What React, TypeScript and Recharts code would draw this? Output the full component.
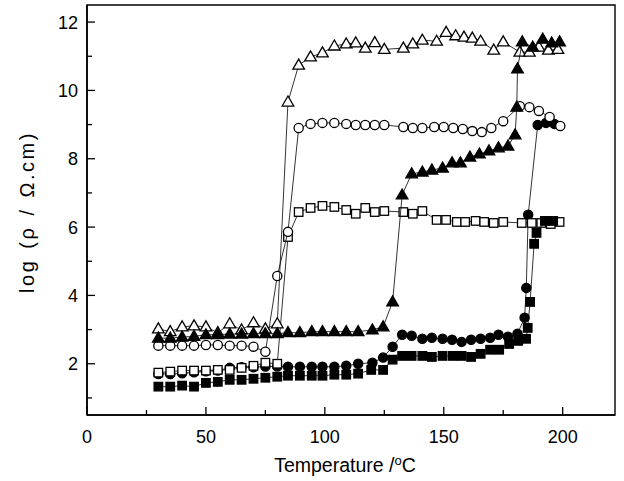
import React from 'react';
import { ScatterChart, Scatter, XAxis, YAxis, ReferenceArea } from 'recharts';

// ---- data ----
const openTriX = [30, 35, 40, 45, 50, 55, 60, 65, 70, 75, 80, 84.5, 89, 94, 99, 104, 109, 113, 117, 121, 125, 133, 137, 141, 147, 151, 155, 158.5, 162, 165.5, 171, 175, 182, 186, 190, 194, 198];
const openTriY = [3.02, 2.94, 3.08, 3.11, 3.08, 2.91, 3.17, 2.99, 3.2, 3.02, 3.17, 9.66, 10.74, 10.98, 11.1, 11.3, 11.36, 11.39, 11.24, 11.4, 11.2, 11.24, 11.36, 11.47, 11.44, 11.7, 11.6, 11.56, 11.53, 11.44, 11.18, 11.42, 11.12, 11.12, 11.27, 11.18, 11.2];

const openCircX = [30, 35, 40, 45, 50, 55, 60, 65, 70, 75, 80, 84.5, 89, 94, 99, 104, 109, 113, 117, 121, 125, 133, 137, 141, 146, 150, 154, 158, 162, 166, 170, 175, 182, 186, 190, 194.5, 199];
const openCircY = [2.53, 2.53, 2.53, 2.53, 2.55, 2.55, 2.53, 2.53, 2.5, 2.35, 4.57, 5.86, 8.9, 9.02, 9.05, 9.05, 9.02, 8.99, 8.99, 8.99, 8.99, 8.93, 8.9, 8.9, 8.93, 8.93, 8.9, 8.87, 8.81, 8.78, 8.9, 9.1, 9.54, 9.51, 9.4, 9.22, 8.96];

const fillTriX = [30, 35, 40, 45, 50, 55, 60, 65, 70, 75, 80, 84.5, 89.5, 94.5, 99, 104, 109, 114, 120, 124.5, 128.5, 132.5, 136.5, 141, 145, 149.5, 153.5, 157, 161, 165, 169, 173, 177, 180, 180.7, 181, 183, 187.4, 191.6, 195.4, 198.7];
const fillTriY = [2.75, 2.75, 2.78, 2.8, 2.85, 2.85, 2.87, 2.87, 2.88, 2.88, 2.88, 2.91, 2.91, 2.94, 2.94, 2.94, 2.94, 2.94, 2.99, 3.08, 3.81, 6.94, 7.56, 7.61, 7.67, 7.73, 7.88, 7.88, 8.05, 8.14, 8.23, 8.32, 8.37, 8.7, 9.51, 10.63, 11.42, 11.27, 11.5, 11.39, 11.42];

const fillCircX = [30, 35, 40, 45, 50, 55, 60, 65, 70, 75, 80, 84.5, 89.5, 94.5, 99, 104, 109, 114, 120, 124.5, 128.5, 132.5, 136.5, 141, 145, 149.5, 153.5, 157.5, 161.5, 165.5, 169.5, 173, 177, 181, 184, 184.7, 185.5, 189.5, 193, 196.5];
const fillCircY = [1.7, 1.7, 1.72, 1.75, 1.78, 1.8, 1.88, 1.9, 1.9, 1.92, 1.92, 1.91, 1.91, 1.91, 1.91, 1.91, 1.94, 2.0, 2.03, 2.18, 2.5, 2.85, 2.82, 2.73, 2.76, 2.73, 2.7, 2.64, 2.7, 2.73, 2.76, 2.85, 2.79, 2.88, 3.35, 4.22, 6.36, 8.99, 9.05, 9.02];

const openSqX = [30, 35, 40, 45, 50, 55, 60, 65, 70, 75, 80, 84.5, 89, 94, 99, 104, 109, 113, 117, 121, 125, 133, 137, 141, 147, 151, 155.5, 159, 163.4, 167, 171, 175, 182.8, 187, 191, 195, 198.7];
const openSqY = [1.74, 1.77, 1.8, 1.8, 1.8, 1.82, 1.82, 1.88, 1.94, 2.03, 2.0, 5.71, 6.44, 6.56, 6.62, 6.59, 6.5, 6.39, 6.56, 6.44, 6.47, 6.44, 6.39, 6.47, 6.21, 6.21, 6.15, 6.15, 6.18, 6.15, 6.12, 6.15, 6.12, 6.12, 6.12, 6.09, 6.15];

const fillSqX = [30, 35, 40, 45, 50, 55, 60, 65, 70, 75, 80, 84.5, 89.5, 94.5, 99, 104, 109, 114, 119.5, 124.5, 128.5, 132.5, 136.5, 141, 145, 149.5, 153.8, 157.5, 161.5, 165.5, 169.5, 173.3, 177.5, 181.3, 184.6, 185.3, 186.3, 188, 189, 192.5, 196];
const fillSqY = [1.33, 1.33, 1.36, 1.33, 1.44, 1.47, 1.53, 1.53, 1.56, 1.59, 1.62, 1.65, 1.65, 1.65, 1.65, 1.68, 1.68, 1.71, 1.82, 1.82, 2.12, 2.23, 2.23, 2.23, 2.2, 2.23, 2.23, 2.23, 2.2, 2.29, 2.41, 2.41, 2.58, 2.67, 2.73, 3.05, 3.81, 5.51, 5.83, 6.18, 6.18];

const xTicks = [0, 25, 50, 75, 100, 125, 150, 175, 200];
const xLabeled = [0, 50, 100, 150, 200];
const yTicks = [1, 2, 3, 4, 5, 6, 7, 8, 9, 10, 11, 12];
const yLabeled = [2, 4, 6, 8, 10, 12];

const zip = (xs: number[], ys: number[]) => xs.map((x, i) => ({ x, y: ys[i] }));

const FONT = '"Liberation Sans", Arial, sans-serif';

const TriShape = (filled: boolean) => (p: any) => {
  const { cx, cy } = p;
  if (cx == null || cy == null) return <g />;
  const w = 5.8, h = 10;
  const pts = `${cx},${cy - h * 0.6} ${cx - w},${cy + h * 0.4} ${cx + w},${cy + h * 0.4}`;
  return <polygon points={pts} fill={filled ? '#000' : '#fff'} stroke="#000" strokeWidth={1.3} />;
};
const CircShape = (filled: boolean) => (p: any) => {
  const { cx, cy } = p;
  if (cx == null || cy == null) return <g />;
  return <circle cx={cx} cy={cy} r={4.6} fill={filled ? '#000' : '#fff'} stroke="#000" strokeWidth={1.3} />;
};
const SqShape = (filled: boolean) => (p: any) => {
  const { cx, cy } = p;
  if (cx == null || cy == null) return <g />;
  const s = 8.5;
  return <rect x={cx - s / 2} y={cy - s / 2} width={s} height={s} fill={filled ? '#000' : '#fff'} stroke="#000" strokeWidth={1.3} />;
};

const XTick = (p: any) => {
  const { x, y, payload } = p;
  const v = payload.value;
  const major = xLabeled.includes(v);
  return (
    <g>
      <line x1={x} y1={y} x2={x} y2={y - (major ? 8 : 5)} stroke="#000" strokeWidth={1.3} />
      {major && (
        <text x={x} y={y + 28} textAnchor="middle" fontSize={18} fontFamily={FONT} fill="#000">
          {v}
        </text>
      )}
    </g>
  );
};

const YTick = (p: any) => {
  const { x, y, payload } = p;
  const v = payload.value;
  const major = yLabeled.includes(v);
  return (
    <g>
      <line x1={x} y1={y} x2={x + (major ? 8 : 5)} y2={y} stroke="#000" strokeWidth={1.3} />
      {major && (
        <text x={x - 9} y={y} dy={6.5} textAnchor="end" fontSize={18} fontFamily={FONT} fill="#000">
          {v}
        </text>
      )}
    </g>
  );
};

const lineStyle = { stroke: '#000', strokeWidth: 0.8 };

export default function App() {
  return (
    <div style={{ position: 'absolute', left: 0, top: 0, width: 624, height: 481, background: '#fff' }}>
      <ScatterChart width={624} height={481} margin={{ top: 5, right: 9, bottom: 0, left: 0 }}>
        <XAxis
          type="number"
          dataKey="x"
          domain={[0, 222]}
          ticks={xTicks}
          tick={<XTick />}
          tickSize={0}
          tickMargin={0}
          height={66}
          axisLine={{ stroke: '#000', strokeWidth: 1.6 }}
          allowDataOverflow
        />
        <YAxis
          type="number"
          dataKey="y"
          domain={[0.5, 12.5]}
          ticks={yTicks}
          tick={<YTick />}
          tickSize={0}
          tickMargin={0}
          width={87}
          axisLine={{ stroke: '#000', strokeWidth: 1.6 }}
          allowDataOverflow
        />
        <ReferenceArea x1={0} x2={222} y1={0.5} y2={12.5} fill="none" fillOpacity={0} stroke="#000" strokeWidth={1.4} ifOverflow="visible" />
        <Scatter data={zip(fillCircX, fillCircY)} line={lineStyle} lineType="joint" shape={CircShape(true)} isAnimationActive={false} />
        <Scatter data={zip(openSqX, openSqY)} line={lineStyle} lineType="joint" shape={SqShape(false)} isAnimationActive={false} />
        <Scatter data={zip(fillSqX, fillSqY)} line={lineStyle} lineType="joint" shape={SqShape(true)} isAnimationActive={false} />
        <Scatter data={zip(openCircX, openCircY)} line={lineStyle} lineType="joint" shape={CircShape(false)} isAnimationActive={false} />
        <Scatter data={zip(openTriX, openTriY)} line={lineStyle} lineType="joint" shape={TriShape(false)} isAnimationActive={false} />
        <Scatter data={zip(fillTriX, fillTriY)} line={lineStyle} lineType="joint" shape={TriShape(true)} isAnimationActive={false} />
      </ScatterChart>
      <div
        style={{
          position: 'absolute',
          left: 27,
          top: 212,
          transform: 'translate(-50%, -50%) rotate(-90deg)',
          whiteSpace: 'nowrap',
          fontFamily: FONT,
          fontSize: 20,
          letterSpacing: 2.5,
          wordSpacing: 2,
          color: '#000',
        }}
      >
        log (ρ / Ω.cm)
      </div>
      <div
        style={{
          position: 'absolute',
          left: 345,
          top: 465,
          transform: 'translate(-50%, -50%)',
          whiteSpace: 'nowrap',
          fontFamily: FONT,
          fontSize: 19.5,
          color: '#000',
        }}
      >
        Temperature /<sup style={{ fontSize: 13 }}>o</sup>C
      </div>
    </div>
  );
}
